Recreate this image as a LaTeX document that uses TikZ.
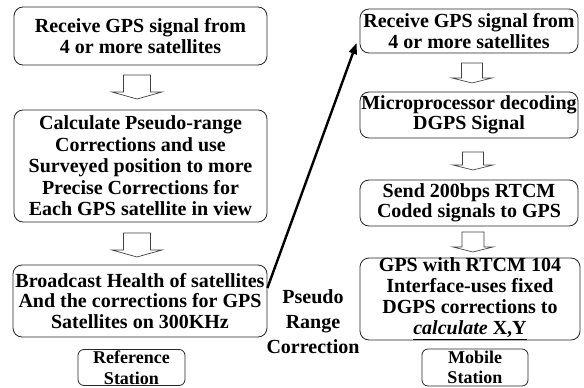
\documentclass[tikz,border=0pt]{standalone}
\usepackage{fontspec}
\setmainfont{Liberation Serif}
\usetikzlibrary{arrows.meta,calc}

\tikzset{
  stepbox/.style={draw=black!85, line width=0.8pt, rounded corners=9pt,
    inner sep=0pt, align=center, font=\fontsize{20}{21.5}\selectfont\bfseries},
  stationbox/.style={stepbox, rounded corners=6pt,
    font=\fontsize{18}{20.5}\selectfont\bfseries},
  labeltext/.style={inner sep=0pt, align=center,
    font=\fontsize{20}{25}\selectfont\bfseries},
  hollowarrow/.style={draw=black!75, line width=0.7pt, fill=white, line join=miter},
  link/.style={line width=2.4pt, -{Triangle[length=11pt,width=8pt]}},
  % #1 shaft half width, #2 shaft length, #3 head half width, #4 head length
  pics/downarrow/.style n args={4}{code={
    \draw[hollowarrow] (-#1,0) -- (#1,0) -- (#1,#2) -- (#3,#2) -- (0,#2+#4)
      -- (-#3,#2) -- (-#1,#2) -- cycle;
  }}
}

\begin{document}
\begin{tikzpicture}[x=1pt,y=-1pt]
\useasboundingbox[fill=white] (0,0) rectangle (584,388);

% reference station chain
\node[stepbox, minimum width=253pt, minimum height=58pt] (L1) at (140.5,36)
  {Receive GPS signal from\\4 or more satellites};
\node[stepbox, minimum width=253pt, minimum height=112pt] (L2) at (140.5,166)
  {Calculate Pseudo-range\\Corrections and use\\Surveyed position to more\\Precise Corrections for\\Each GPS satellite in view};
\node[stepbox, minimum width=254pt, minimum height=72pt,
  font=\fontsize{20}{20.5}\selectfont\bfseries] (L3) at (140,301)
  {Broadcast Health of satellites\\And the corrections for GPS\\Satellites on 300KHz};
\node[stationbox, minimum width=107pt, minimum height=36pt] (ref) at (131.5,367.5)
  {Reference\\Station};

% mobile station chain
\node[stepbox, minimum width=218pt, minimum height=44pt,
  font=\fontsize{20}{20.5}\selectfont\bfseries] (R1) at (469,31)
  {Receive GPS signal from\\4 or more satellites};
\node[stepbox, minimum width=218pt, minimum height=46pt,
  font=\fontsize{20}{20.5}\selectfont\bfseries] (R2) at (469,115)
  {Microprocessor decoding\\DGPS Signal};
\node[stepbox, minimum width=218pt, minimum height=46pt,
  font=\fontsize{20}{20.5}\selectfont\bfseries] (R3) at (469,203)
  {Send 200bps RTCM\\Coded signals to GPS};
\node[stepbox, minimum width=220pt, minimum height=82pt,
  font=\fontsize{20}{21}\selectfont\bfseries] (R4) at (470,299)
  {GPS with RTCM 104\\Interface-uses fixed\\DGPS corrections to\\\underline{\textit{calculate} X,Y}};
\node[stationbox, minimum width=106pt, minimum height=37pt] (mob) at (475,367.5)
  {Mobile\\Station};

% link label
\node[labeltext] (prc) at (313,322) {Pseudo\\Range\\Correction};

% hollow step arrows
\pic at (137,75) {downarrow={13.5}{17}{25}{7}};
\pic at (137,233) {downarrow={13.5}{17}{25}{7}};
\pic at (472,63) {downarrow={10.5}{15}{20}{5}};
\pic at (473,152) {downarrow={10.5}{13}{20}{5}};
\pic at (473,232) {downarrow={11}{15}{20}{5}};

% correction link between the stations
\coordinate (out) at ($(L3.east)+(0,-13)$);
\coordinate (in) at ($(R1.west)+(-3,12)$);
\draw[link] (out) -- (in);
\end{tikzpicture}
\end{document}
